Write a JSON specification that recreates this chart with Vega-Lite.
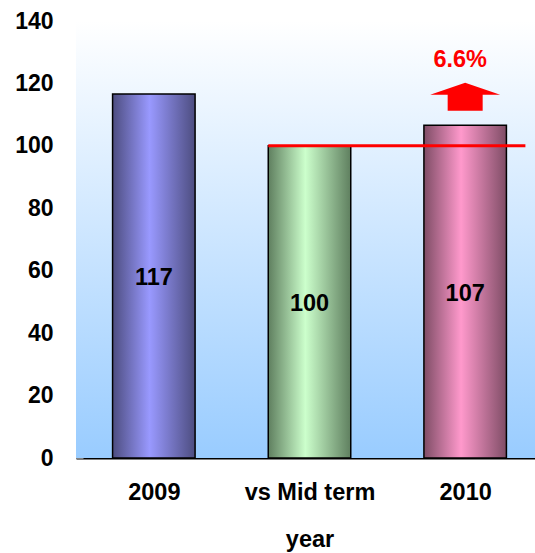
{
  "$schema": "https://vega.github.io/schema/vega-lite/v6.json",
  "width": 459,
  "height": 437,
  "autosize": "none",
  "padding": {"left": 76, "top": 21, "right": 0, "bottom": 95},
  "background": "white",
  "config": {"view": {"stroke": null}, "font": "Liberation Sans"},
  "datasets": {
    "bars": [
      {"category": "2009", "value": 116.6, "label": "117"},
      {"category": "vs Mid term", "value": 100, "label": "100"},
      {"category": "2010", "value": 106.6, "label": "107"}
    ],
    "ref": [{"from": "vs Mid term", "to": "2010", "value": 100}],
    "note": [{"category": "2010", "change": "6.6%"}]
  },
  "encoding": {
    "x": {
      "field": "category",
      "type": "nominal",
      "scale": {"domain": ["2009", "vs Mid term", "2010"], "range": [0, 467], "paddingInner": 0.47, "paddingOuter": 0.235},
      "axis": {
        "labelAngle": 0,
        "labelFontSize": 23.5,
        "labelFontWeight": "bold",
        "labelColor": "black",
        "labelPadding": 29,
        "domainColor": "black",
        "domainWidth": 2,
        "tickBand": "extent",
        "tickSize": -7,
        "tickColor": "#404040",
        "title": "year",
        "titleFontSize": 23.5,
        "titleFontWeight": "bold",
        "titleColor": "black",
        "titlePadding": 24
      }
    }
  },
  "layer": [
    {
      "data": {"values": [{"bg": 1}]},
      "mark": {
        "type": "rect",
        "color": {"gradient": "linear", "x1": 0, "y1": 0, "x2": 0, "y2": 1,
          "stops": [{"offset": 0, "color": "#ffffff"}, {"offset": 1, "color": "#99ccff"}]}
      },
      "encoding": {"x": null}
    },
    {
      "data": {"name": "bars"},
      "transform": [{"filter": "datum.category == '2009'"}],
      "mark": {"type": "bar", "stroke": "black", "strokeWidth": 1.5,
        "color": {"gradient": "linear", "x1": 0, "y1": 0, "x2": 1, "y2": 0,
          "stops": [{"offset": 0, "color": "#4d4d80"}, {"offset": 0.45, "color": "#9999ff"}, {"offset": 1, "color": "#4d4d80"}]}},
      "encoding": {
        "y": {
          "field": "value",
          "type": "quantitative",
          "scale": {"domain": [0, 140], "nice": false},
          "axis": {
            "values": [0, 20, 40, 60, 80, 100, 120, 140],
            "grid": false,
            "title": null,
            "labelFontSize": 23,
            "labelFontWeight": "bold",
            "labelColor": "black",
            "labelPadding": 30,
            "domainColor": "#808080",
            "tickColor": "#808080",
            "tickSize": -7
          }
        }
      }
    },
    {
      "data": {"name": "bars"},
      "transform": [{"filter": "datum.category == 'vs Mid term'"}],
      "mark": {"type": "bar", "stroke": "black", "strokeWidth": 1.5,
        "color": {"gradient": "linear", "x1": 0, "y1": 0, "x2": 1, "y2": 0,
          "stops": [{"offset": 0, "color": "#5f7f5f"}, {"offset": 0.45, "color": "#ccffcc"}, {"offset": 1, "color": "#5f7f5f"}]}},
      "encoding": {"y": {"field": "value", "type": "quantitative"}}
    },
    {
      "data": {"name": "bars"},
      "transform": [{"filter": "datum.category == '2010'"}],
      "mark": {"type": "bar", "stroke": "black", "strokeWidth": 1.5,
        "color": {"gradient": "linear", "x1": 0, "y1": 0, "x2": 1, "y2": 0,
          "stops": [{"offset": 0, "color": "#7f4d66"}, {"offset": 0.45, "color": "#ff99cc"}, {"offset": 1, "color": "#7f4d66"}]}},
      "encoding": {"y": {"field": "value", "type": "quantitative"}}
    },
    {
      "data": {"name": "bars"},
      "transform": [{"calculate": "datum.value / 2", "as": "mid"}],
      "mark": {"type": "text", "fontSize": 23.5, "fontWeight": "bold", "color": "black", "dy": 2},
      "encoding": {
        "y": {"field": "mid", "type": "quantitative"},
        "text": {"field": "label"}
      }
    },
    {
      "data": {"name": "ref"},
      "mark": {"type": "rule", "color": "red", "strokeWidth": 3},
      "encoding": {
        "x": {"field": "from", "type": "nominal", "bandPosition": 0},
        "x2": {"field": "to", "bandPosition": 1.23},
        "y": {"field": "value", "type": "quantitative"}
      }
    },
    {
      "data": {"name": "note"},
      "mark": {"type": "point", "filled": true, "color": "red", "opacity": 1, "size": 4900, "strokeWidth": 0,
        "shape": "M0,-0.4 L1,-0.06 L0.5,-0.06 L0.5,0.4 L-0.5,0.4 L-0.5,-0.06 L-1,-0.06 Z"},
      "encoding": {
        "y": {"datum": 115.7, "type": "quantitative"}
      }
    },
    {
      "data": {"name": "note"},
      "mark": {"type": "text", "color": "red", "fontSize": 23.5, "fontWeight": "bold", "dx": -5},
      "encoding": {
        "y": {"datum": 127.6, "type": "quantitative"},
        "text": {"field": "change"}
      }
    }
  ]
}
